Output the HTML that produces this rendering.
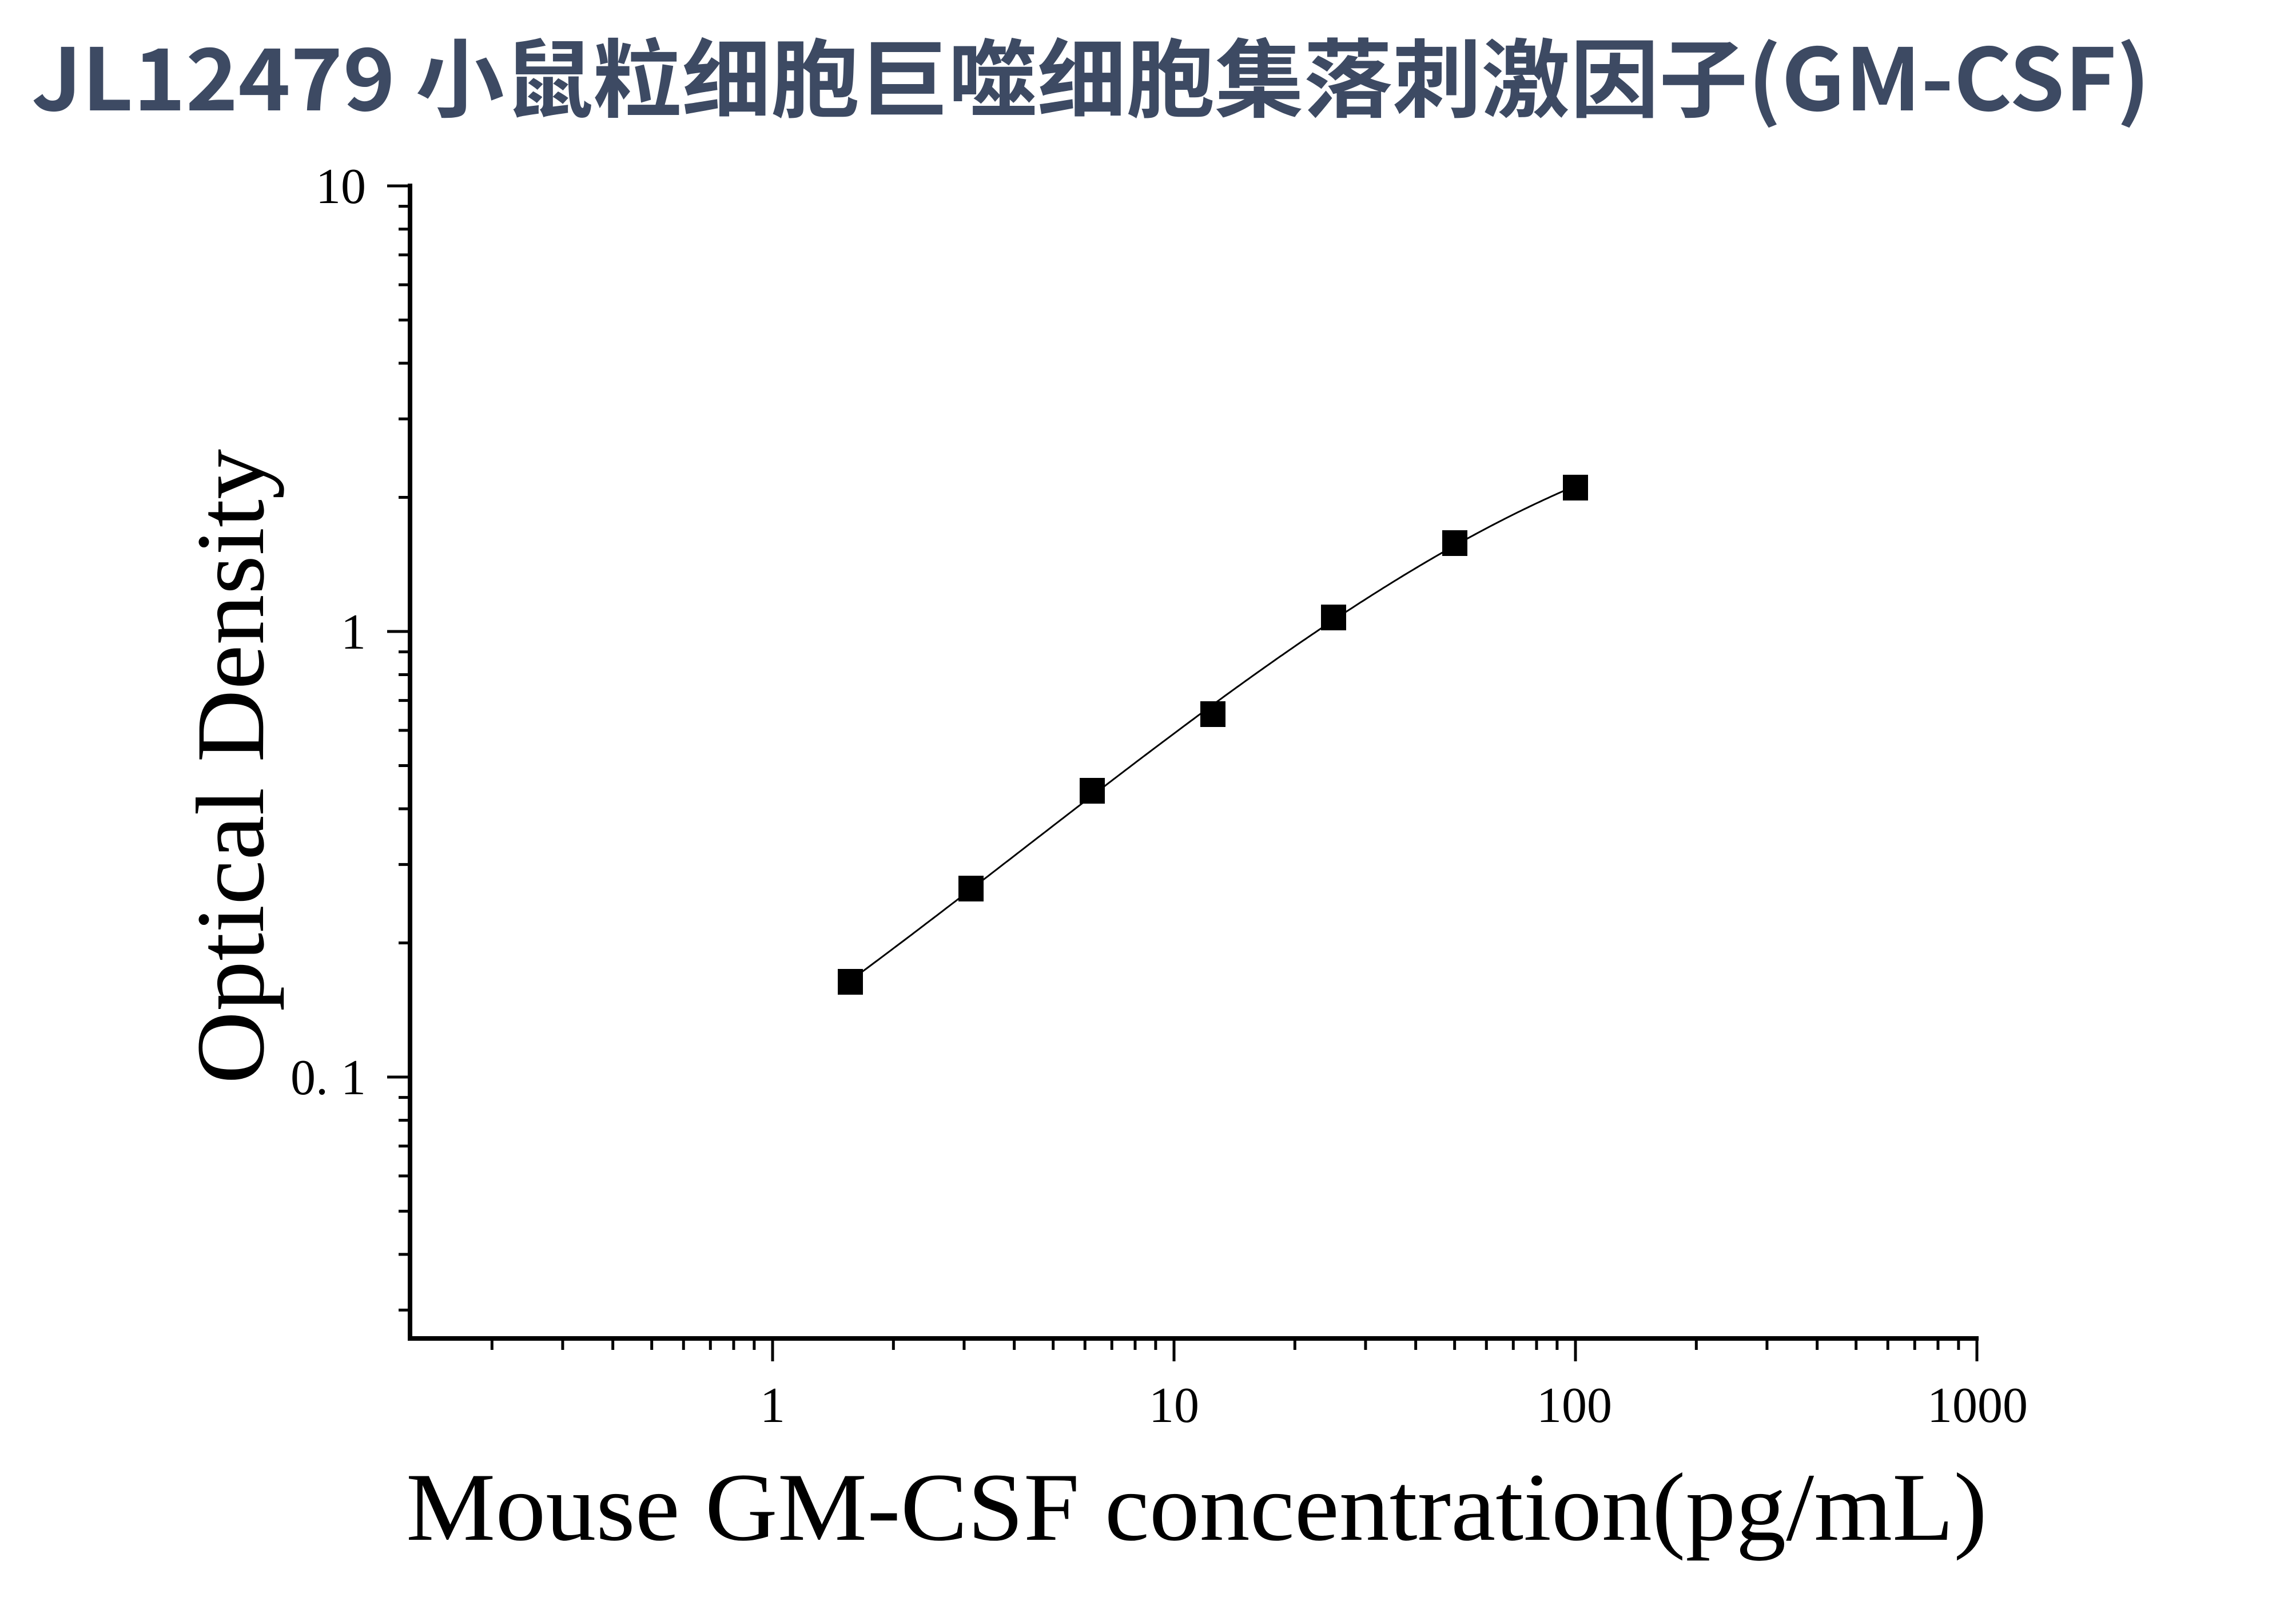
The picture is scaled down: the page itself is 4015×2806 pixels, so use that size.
<!DOCTYPE html>
<html><head><meta charset="utf-8">
<style>html,body{margin:0;padding:0;background:#fff;}svg{display:block;}</style>
</head><body>
<svg id="s" width="4015" height="2806" viewBox="0 0 4015 2806" xmlns="http://www.w3.org/2000/svg">
<rect width="4015" height="2806" fill="#fff"/>
<text x="55" y="193" font-family="'Noto Sans CJK SC','Liberation Sans',sans-serif" font-weight="bold" font-size="150" fill="#3d4a63" textLength="3705" lengthAdjust="spacingAndGlyphs">JL12479 小鼠粒细胞巨噬细胞集落刺激因子(GM-CSF)</text>
<g id="ax" stroke="#000" fill="none"></g>
<g font-family="'Liberation Serif',serif" font-size="88" fill="#000">
<text x="640" y="355" text-anchor="end">10</text>
<text x="640" y="1134" text-anchor="end">1</text>
<text x="640" y="1913" text-anchor="end">0. 1</text>
<text x="1351" y="2486" text-anchor="middle">1</text>
<text x="2053" y="2486" text-anchor="middle">10</text>
<text x="2753" y="2486" text-anchor="middle">100</text>
<text x="3458" y="2486" text-anchor="middle">1000</text>
</g>
<text x="710" y="2692" font-family="'Liberation Serif',serif" font-size="170" fill="#000" textLength="2765" lengthAdjust="spacingAndGlyphs">Mouse GM-CSF concentration(pg/mL)</text>
<text transform="translate(460,1340) rotate(-90)" text-anchor="middle" font-family="'Liberation Serif',serif" font-size="170" fill="#000" textLength="1110" lengthAdjust="spacingAndGlyphs">Optical Density</text>
<path id="curve" fill="none" stroke="#000" stroke-width="3"/>
<g id="pts" fill="#000"></g>
</svg>
<script>
var ns="http://www.w3.org/2000/svg";
function el(p,t,a){var e=document.createElementNS(ns,t);for(var k in a)e.setAttribute(k,a[k]);p.appendChild(e);return e;}
var ax=document.getElementById('ax');
var X0=717,Y0=2340,XR=3458,YT=325;
el(ax,'line',{x1:X0,y1:YT-4,x2:X0,y2:Y0+4,'stroke-width':8});
el(ax,'line',{x1:X0-4,y1:Y0,x2:XR+2,y2:Y0,'stroke-width':8});
function xp(v){return 1351+702*Math.log10(v);}
function yp(v){return 1104-779*Math.log10(v);}
for(var d=-1;d<=2;d++){for(var m=1;m<=9;m++){var v=m*Math.pow(10,d);var x=xp(v);if(x<X0+5)continue;var L=(m==1)?40:20;el(ax,'line',{x1:x,y1:Y0,x2:x,y2:Y0+L,'stroke-width':5});}}
el(ax,'line',{x1:xp(1000),y1:Y0,x2:xp(1000),y2:Y0+40,'stroke-width':5});
for(var d=-2;d<=0;d++){for(var m=1;m<=9;m++){var v=m*Math.pow(10,d);var y=yp(v);if(y>Y0-5)continue;var L=(m==1)?40:20;el(ax,'line',{x1:X0,y1:y,x2:X0-L,y2:y,'stroke-width':5});}}
el(ax,'line',{x1:X0,y1:yp(10),x2:X0-40,y2:yp(10),'stroke-width':5});
var P=[[1487,1716],[1698,1553],[1910,1382],[2121,1248],[2332,1079],[2544,949],[2755,852]];
// cubic least squares fit
var n=4,A=[],B=[];for(var i=0;i<n;i++){A.push([0,0,0,0]);B.push(0);}
function t(x){return (x-2121)/634;}
P.forEach(function(p){var u=t(p[0]);var pw=[1,u,u*u,u*u*u];for(var i=0;i<n;i++){B[i]+=pw[i]*p[1];for(var j=0;j<n;j++)A[i][j]+=pw[i]*pw[j];}});
for(var i=0;i<n;i++){for(var k=i+1;k<n;k++){var f=A[k][i]/A[i][i];for(var j=i;j<n;j++)A[k][j]-=f*A[i][j];B[k]-=f*B[i];}}
var c=[0,0,0,0];for(var i=n-1;i>=0;i--){var s=B[i];for(var j=i+1;j<n;j++)s-=A[i][j]*c[j];c[i]=s/A[i][i];}
var d="";for(var x=1487;x<=2755;x+=4){var u=t(x);var y=c[0]+c[1]*u+c[2]*u*u+c[3]*u*u*u;d+=(d?" L":"M")+x+","+y.toFixed(1);}
document.getElementById('curve').setAttribute('d',d);
var g=document.getElementById('pts');
P.forEach(function(p){el(g,'rect',{x:p[0]-22,y:p[1]-22,width:44,height:45});});
</script>
</body></html>
